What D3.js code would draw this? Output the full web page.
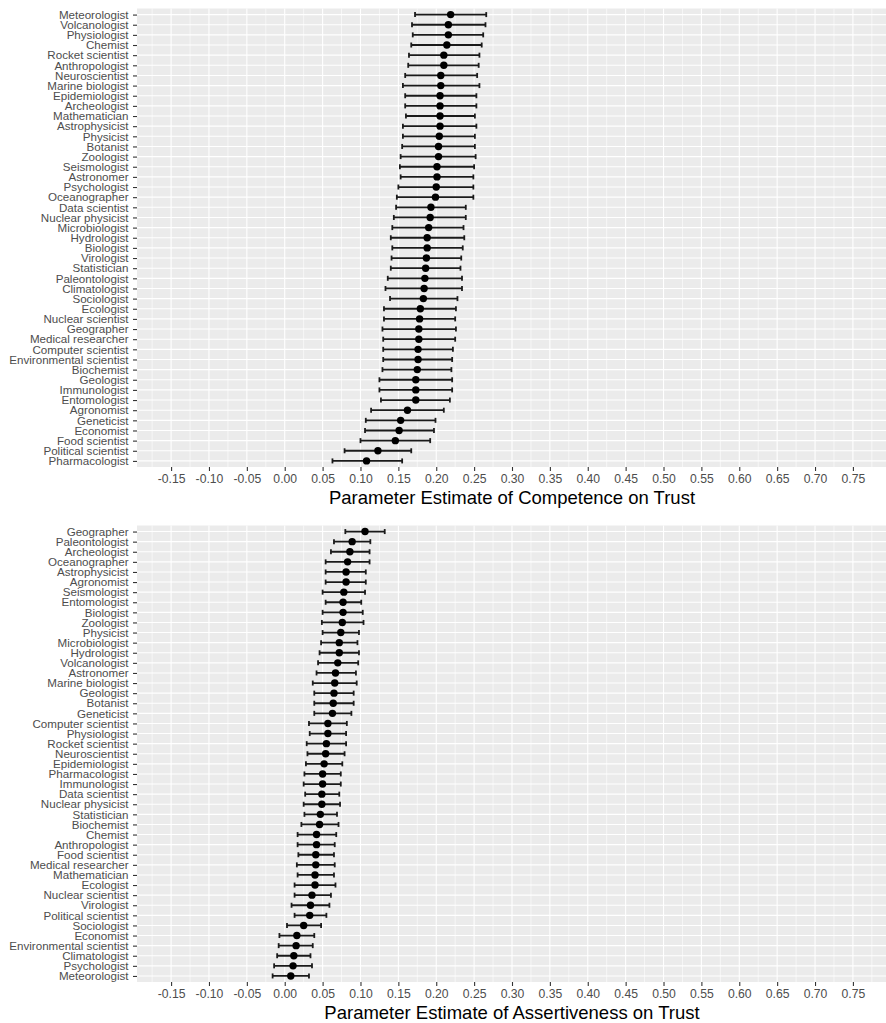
<!DOCTYPE html>
<html>
<head>
<meta charset="utf-8">
<script src="https://cdn.jsdelivr.net/npm/d3@7"></script>
<style>
  html, body { margin: 0; padding: 0; background: #ffffff; }
  svg { display: block; font-family: "Liberation Sans", Arial, sans-serif; }
</style>
</head>
<body>
<svg id="chart" width="886" height="1023"></svg>
<script>
// Competence effect on trust, per profession (estimate with 95% interval)
const topCategories = ["Meteorologist","Volcanologist","Physiologist","Chemist","Rocket scientist","Anthropologist","Neuroscientist","Marine biologist","Epidemiologist","Archeologist","Mathematician","Astrophysicist","Physicist","Botanist","Zoologist","Seismologist","Astronomer","Psychologist","Oceanographer","Data scientist","Nuclear physicist","Microbiologist","Hydrologist","Biologist","Virologist","Statistician","Paleontologist","Climatologist","Sociologist","Ecologist","Nuclear scientist","Geographer","Medical researcher","Computer scientist","Environmental scientist","Biochemist","Geologist","Immunologist","Entomologist","Agronomist","Geneticist","Economist","Food scientist","Political scientist","Pharmacologist"];
const topEstimate = [0.219,0.216,0.216,0.214,0.210,0.210,0.206,0.206,0.205,0.205,0.205,0.205,0.204,0.203,0.203,0.201,0.201,0.200,0.199,0.193,0.192,0.190,0.188,0.188,0.187,0.186,0.185,0.184,0.183,0.179,0.178,0.177,0.177,0.176,0.176,0.175,0.173,0.173,0.173,0.162,0.153,0.151,0.146,0.123,0.108];
const topLower = [0.172,0.168,0.169,0.167,0.164,0.163,0.159,0.156,0.159,0.159,0.160,0.156,0.156,0.155,0.153,0.152,0.153,0.150,0.148,0.147,0.144,0.142,0.140,0.142,0.141,0.140,0.136,0.133,0.139,0.131,0.131,0.129,0.130,0.130,0.130,0.129,0.125,0.125,0.127,0.114,0.107,0.106,0.100,0.079,0.063];
const topUpper = [0.266,0.265,0.262,0.260,0.257,0.256,0.254,0.257,0.253,0.253,0.251,0.253,0.251,0.251,0.252,0.250,0.249,0.249,0.249,0.239,0.239,0.236,0.237,0.235,0.233,0.232,0.234,0.234,0.228,0.226,0.225,0.226,0.225,0.222,0.221,0.220,0.221,0.221,0.218,0.210,0.199,0.197,0.192,0.167,0.155];

// Assertiveness effect on trust, per profession
const bottomCategories = ["Geographer","Paleontologist","Archeologist","Oceanographer","Astrophysicist","Agronomist","Seismologist","Entomologist","Biologist","Zoologist","Physicist","Microbiologist","Hydrologist","Volcanologist","Astronomer","Marine biologist","Geologist","Botanist","Geneticist","Computer scientist","Physiologist","Rocket scientist","Neuroscientist","Epidemiologist","Pharmacologist","Immunologist","Data scientist","Nuclear physicist","Statistician","Biochemist","Chemist","Anthropologist","Food scientist","Medical researcher","Mathematician","Ecologist","Nuclear scientist","Virologist","Political scientist","Sociologist","Economist","Environmental scientist","Climatologist","Psychologist","Meteorologist"];
const bottomEstimate = [0.106,0.089,0.086,0.083,0.081,0.081,0.078,0.077,0.077,0.076,0.074,0.072,0.072,0.070,0.067,0.066,0.065,0.064,0.063,0.057,0.057,0.055,0.054,0.052,0.050,0.050,0.049,0.049,0.047,0.046,0.042,0.042,0.041,0.041,0.040,0.040,0.036,0.034,0.033,0.025,0.016,0.015,0.012,0.011,0.008];
const bottomLower = [0.080,0.065,0.061,0.054,0.054,0.054,0.050,0.054,0.050,0.049,0.050,0.048,0.046,0.044,0.042,0.037,0.039,0.039,0.039,0.032,0.033,0.029,0.030,0.028,0.026,0.025,0.027,0.025,0.026,0.022,0.017,0.017,0.018,0.016,0.017,0.013,0.013,0.009,0.013,0.003,-0.007,-0.008,-0.010,-0.014,-0.016];
const bottomUpper = [0.132,0.113,0.112,0.112,0.107,0.107,0.106,0.101,0.103,0.104,0.098,0.096,0.098,0.097,0.094,0.095,0.091,0.091,0.088,0.082,0.081,0.081,0.079,0.076,0.074,0.074,0.072,0.073,0.069,0.071,0.068,0.066,0.065,0.066,0.065,0.067,0.061,0.059,0.055,0.048,0.039,0.037,0.034,0.036,0.032];

// Axis breaks
const xTickValues = [-0.15,-0.10,-0.05,0.00,0.05,0.10,0.15,0.20,0.25,0.30,0.35,0.40,0.45,0.50,0.55,0.60,0.65,0.70,0.75];
const xMinorValues = [-0.175,-0.125,-0.075,-0.025,0.025,0.075,0.125,0.175,0.225,0.275,0.325,0.375,0.425,0.475,0.525,0.575,0.625,0.675,0.725,0.775];
const xDomain = [-0.195, 0.795];

const svg = d3.select("#chart");
const panelLeft = 137, panelRight = 887;

const x = d3.scaleLinear().domain(xDomain).range([panelLeft, panelRight]);

function drawPanel(cfg) {
  const { categories, est, lo, hi, top, bottom, title } = cfg;
  const rows = categories.map((c, i) => ({ name: c, est: est[i], lo: lo[i], hi: hi[i] }));
  const y = d3.scalePoint().domain(categories).range([top, bottom]).padding(0.6);

  const g = svg.append("g");

  // panel background
  g.append("rect")
    .attr("x", panelLeft).attr("y", top)
    .attr("width", panelRight - panelLeft).attr("height", bottom - top)
    .attr("fill", "#EBEBEB");

  // minor vertical grid
  g.selectAll("line.minor").data(xMinorValues).join("line")
    .attr("class", "minor")
    .attr("x1", d => x(d)).attr("x2", d => x(d))
    .attr("y1", top).attr("y2", bottom)
    .attr("stroke", "#ffffff").attr("stroke-width", 0.6);

  // major vertical grid
  g.selectAll("line.majorx").data(xTickValues).join("line")
    .attr("class", "majorx")
    .attr("x1", d => x(d)).attr("x2", d => x(d))
    .attr("y1", top).attr("y2", bottom)
    .attr("stroke", "#ffffff").attr("stroke-width", 1.1);

  // horizontal grid at each category
  g.selectAll("line.majory").data(categories).join("line")
    .attr("class", "majory")
    .attr("x1", panelLeft).attr("x2", panelRight)
    .attr("y1", d => y(d)).attr("y2", d => y(d))
    .attr("stroke", "#ffffff").attr("stroke-width", 1.1);

  // error bars
  const capH = 2.5;
  const eb = g.append("g").attr("stroke", "#1a1a1a").attr("stroke-width", 1.8);
  eb.selectAll("line.bar").data(rows).join("line")
    .attr("class", "bar")
    .attr("x1", d => x(d.lo)).attr("x2", d => x(d.hi))
    .attr("y1", d => y(d.name)).attr("y2", d => y(d.name));
  eb.selectAll("line.capl").data(rows).join("line")
    .attr("class", "capl")
    .attr("x1", d => x(d.lo)).attr("x2", d => x(d.lo))
    .attr("y1", d => y(d.name) - capH).attr("y2", d => y(d.name) + capH);
  eb.selectAll("line.capr").data(rows).join("line")
    .attr("class", "capr")
    .attr("x1", d => x(d.hi)).attr("x2", d => x(d.hi))
    .attr("y1", d => y(d.name) - capH).attr("y2", d => y(d.name) + capH);

  // point estimates
  g.selectAll("circle.pt").data(rows).join("circle")
    .attr("class", "pt")
    .attr("cx", d => x(d.est)).attr("cy", d => y(d.name))
    .attr("r", 3.7).attr("fill", "#000000");

  // y axis
  const yAxis = g.append("g")
    .attr("transform", `translate(${panelLeft},0)`)
    .call(d3.axisLeft(y).tickSize(4).tickPadding(4.5));
  yAxis.select(".domain").remove();
  yAxis.selectAll(".tick line").attr("stroke", "#333333").attr("stroke-width", 1.1);
  yAxis.selectAll(".tick text")
    .attr("fill", "#4D4D4D").style("font-size", "11.6px");

  // x axis
  const xAxis = g.append("g")
    .attr("transform", `translate(0,${bottom})`)
    .call(d3.axisBottom(x).tickValues(xTickValues).tickFormat(d3.format(".2f")).tickSize(4).tickPadding(3));
  xAxis.select(".domain").remove();
  xAxis.selectAll(".tick line").attr("stroke", "#333333").attr("stroke-width", 1.1);
  xAxis.selectAll(".tick text")
    .attr("fill", "#4D4D4D").style("font-size", "12.2px")
    .text(d => d3.format(".2f")(d).replace("−", "-"));

  // axis title
  g.append("text")
    .attr("x", (panelLeft + panelRight) / 2)
    .attr("y", bottom + 37)
    .attr("text-anchor", "middle")
    .attr("fill", "#000000")
    .style("font-size", "18.5px")
    .text(title);
}

drawPanel({
  categories: topCategories, est: topEstimate, lo: topLower, hi: topUpper,
  top: 8.5, bottom: 467, title: "Parameter Estimate of Competence on Trust"
});

drawPanel({
  categories: bottomCategories, est: bottomEstimate, lo: bottomLower, hi: bottomUpper,
  top: 525.5, bottom: 982, title: "Parameter Estimate of Assertiveness on Trust"
});
</script>
</body>
</html>
